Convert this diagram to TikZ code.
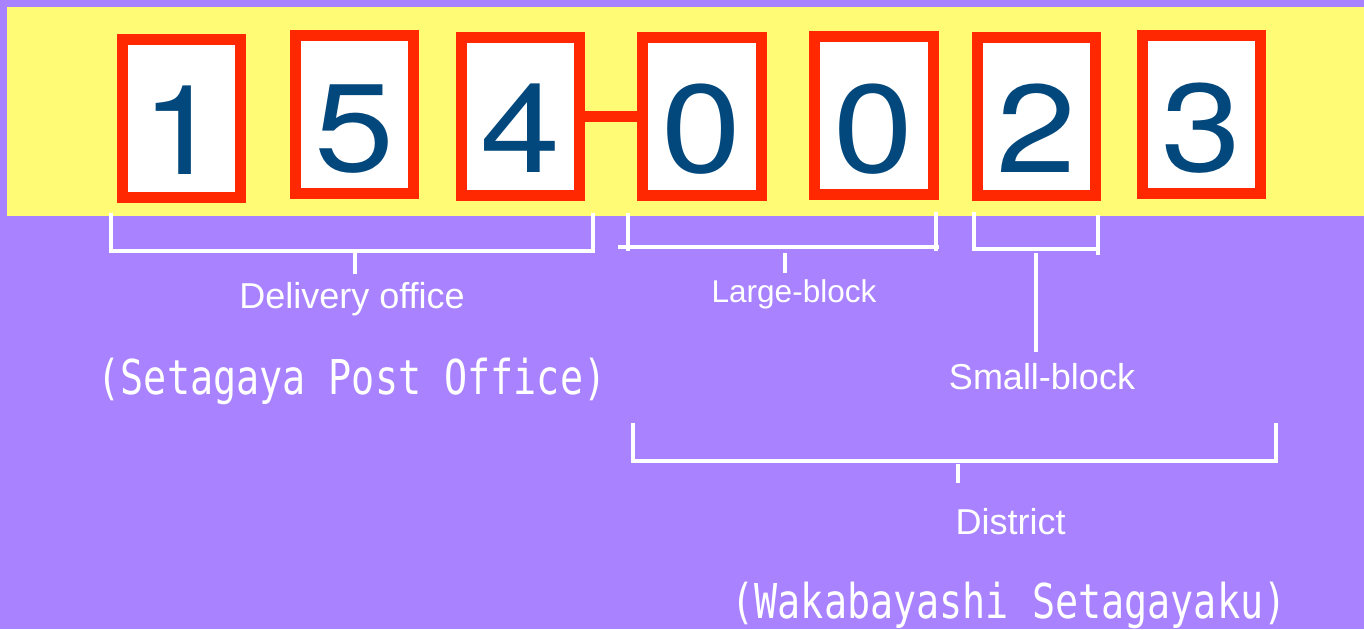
\documentclass[tikz,border=0pt]{standalone}
\usepackage{fontspec}
\usepackage{graphicx}
\setmainfont{Liberation Sans}
\newfontfamily\gothic[FakeStretch=0.80]{DejaVu Sans Mono}
\newfontfamily\digitfont{TeX Gyre Heros}
\newcommand{\widedigit}[1]{\scalebox{1.15}[1]{#1}}
\definecolor{bgpurple}{HTML}{A983FF}
\definecolor{bandyellow}{HTML}{FFFB74}
\definecolor{boxred}{HTML}{FF2800}
\definecolor{digitblue}{HTML}{03487C}
\begin{document}
\begin{tikzpicture}[x=1pt,y=-1pt,
  digitbox/.style={draw=boxred, line width=11pt, fill=white, rectangle,
    minimum width=118.5pt, minimum height=158pt, inner sep=0pt, outer sep=0pt},
  digit/.style={anchor=base, text=digitblue, inner sep=0pt,
    font=\digitfont\fontsize{125}{130}\selectfont},
  bracket/.style={draw=white, line width=4pt},
  lbl/.style={anchor=base, text=white, inner sep=0pt,
    font=\fontsize{36}{40}\selectfont},
  smalllbl/.style={lbl, font=\fontsize{31.5}{34}\selectfont},
  gothiclbl/.style={anchor=base, text=white, inner sep=0pt,
    font=\gothic\fontsize{48}{52}\selectfont}]
\fill[bgpurple] (0,0) rectangle (1364,629);
\useasboundingbox (0,0) rectangle (1364,629);
\fill[bandyellow] (7,7) rectangle (1364,216);
% boxes
\node[digitbox] (b1) at (181.25,118.75) {};
\node[digitbox] (b2) at (354.6,114.5) {};
\node[digitbox] (b3) at (520.5,116) {};
\node[digitbox] (b4) at (701.75,116) {};
\node[digitbox] (b5) at (873.75,115.5) {};
\node[digitbox] (b6) at (1036.4,116.2) {};
\node[digitbox] (b7) at (1201.4,114.5) {};
\draw[boxred, line width=11pt] (b3.east) -- (b4.west);
% digits
\node[digit] (d1) at ([yshift=-56pt]b1.center) {\widedigit{1}};
\node[digit] (d2) at ([yshift=-57pt]b2.center) {\widedigit{5}};
\node[digit] (d3) at ([yshift=-56pt]b3.center) {\widedigit{4}};
\node[digit] (d4) at ([yshift=-56.5pt]b4.center) {\widedigit{0}};
\node[digit] (d5) at ([yshift=-56.5pt]b5.center) {\widedigit{0}};
\node[digit] (d6) at ([yshift=-56pt]b6.center) {\widedigit{2}};
\node[digit] (d7) at ([yshift=-57pt]b7.center) {\widedigit{3}};
% brackets
\draw[bracket] (111,213) -- (111,251) -- (593,251) -- (593,213);
\draw[bracket] (354.5,253) -- (354.5,274);
\draw[bracket] (618,247) -- (939,247);
\draw[bracket] (628,213) -- (628,251);
\draw[bracket] (936,212) -- (936,251);
\draw[bracket] (785,253) -- (785,273);
\draw[bracket] (974,212) -- (974,249.3) -- (1097.7,249.3);
\draw[bracket] (1097.7,215.3) -- (1097.7,255);
\draw[bracket] (1036,253) -- (1036,352);
\draw[bracket] (632.6,422.7) -- (632.6,461) -- (1276,461) -- (1276,422.7);
\draw[bracket] (958,464) -- (958,483);
% labels
\node[lbl] (delivery) at (352,308) {Delivery office};
\node[smalllbl] (large) at (794,302.7) {Large-block};
\node[lbl] (small) at (1042,389) {Small-block};
\node[lbl] (district) at (1010.7,534) {District};
\node[gothiclbl] (setagaya) at (352,394.5) {(Setagaya Post Office)};
\node[gothiclbl] (wakaba) at (1009,618.5) {(Wakabayashi Setagayaku)};
\end{tikzpicture}
\end{document}
